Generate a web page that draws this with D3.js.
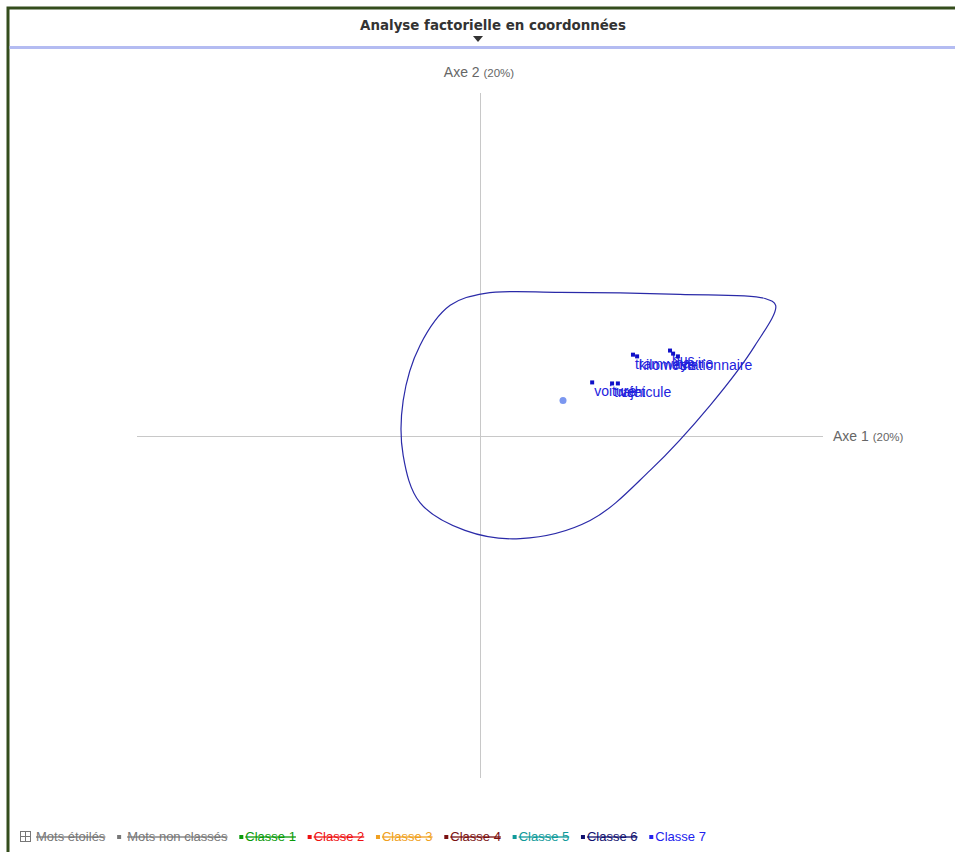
<!DOCTYPE html>
<meta charset="utf-8">
<title>Analyse factorielle en coordonnées</title>
<body>
<script src="https://cdn.jsdelivr.net/npm/d3@7"></script>
<style>
html, body {
    margin: 0;
    background: #fff;
}
svg {
    display: block;
    font-family: "Liberation Sans", Arial, sans-serif;
}
</style>
<script>
var width = 955,
    height = 852;

// mots de la classe 7 (coordonnées factorielles)
var words  = ["tramway", "kilomètre", "bus", "navire", "stationnaire", "voiture", "trajet", "véhicule"],
    wordX  = [0.446, 0.458, 0.554, 0.563, 0.577, 0.327, 0.385, 0.402],
    wordY  = [0.236, 0.231, 0.248, 0.239, 0.231, 0.155, 0.152, 0.152];

// barycentre de la classe
var centerX = [0.242],
    centerY = [0.102];

// contour de la classe
var hullX = [0.015, 0.233, 0.583, 0.831, 0.862, 0.802, 0.671, 0.496, 0.321, 0.117, -0.044, -0.175, -0.224, -0.224, -0.175, -0.087],
    hullY = [0.415, 0.418, 0.412, 0.400, 0.380, 0.263, 0.088, -0.102, -0.248, -0.301, -0.277, -0.196, -0.058, 0.102, 0.263, 0.380];

var axisLabels = ["Axe 1", "Axe 2"],
    axisPct    = ["(20%)", "(20%)"];

var legendLabels = ["Mots étoilés", "Mots non classés", "Classe 1", "Classe 2", "Classe 3", "Classe 4", "Classe 5", "Classe 6", "Classe 7"],
    legendOff    = [true, true, true, true, true, true, true, true, false];

var legendColors = ["#777", "#777", "#0a9a0a", "#ee1111", "#f0a020", "#7a1010", "#109a9a", "#10106e", "#2222ee"];

var svg = d3.select("body").append("svg")
    .attr("width", width)
    .attr("height", height);

// cadre
svg.append("rect")
    .attr("x", 8).attr("y", 8)
    .attr("width", width).attr("height", height)
    .attr("fill", "none")
    .attr("stroke", "#344d1c")
    .attr("stroke-width", 3);

svg.append("rect")
    .attr("x", 9.5).attr("y", 46)
    .attr("width", width).attr("height", 3)
    .attr("fill", "#b4bcf2");

svg.append("text")
    .attr("x", 493).attr("y", 30)
    .attr("text-anchor", "middle")
    .attr("font-family", "'DejaVu Sans', Verdana, sans-serif")
    .attr("font-size", 13.4)
    .attr("font-weight", "bold")
    .attr("fill", "#333")
    .text("Analyse factorielle en coordonnées");

svg.append("path")
    .attr("d", "M473,36L483,36L478,42Z")
    .attr("fill", "#333");

var x = d3.scaleLinear().domain([-1, 1]).range([137, 823]),
    y = d3.scaleLinear().domain([-1, 1]).range([778, 93]);

// axes
var axes = svg.append("g")
    .attr("stroke", "#c8c8c8")
    .attr("stroke-width", 1);

axes.append("line")
    .attr("x1", x(-1)).attr("x2", x(1))
    .attr("y1", Math.round(y(0)) + 0.5).attr("y2", Math.round(y(0)) + 0.5);

axes.append("line")
    .attr("x1", Math.round(x(0)) + 0.5).attr("x2", Math.round(x(0)) + 0.5)
    .attr("y1", y(1)).attr("y2", y(-1));

var ax1 = svg.append("text")
    .attr("x", x(1) + 10).attr("y", y(0) + 5)
    .attr("fill", "#666")
    .attr("font-size", 14);
ax1.append("tspan").text(axisLabels[0] + " ");
ax1.append("tspan").attr("font-size", 11.5).text(axisPct[0]);

var ax2 = svg.append("text")
    .attr("x", x(0) - 1).attr("y", y(1) - 16)
    .attr("text-anchor", "middle")
    .attr("fill", "#666")
    .attr("font-size", 14);
ax2.append("tspan").text(axisLabels[1] + " ");
ax2.append("tspan").attr("font-size", 11.5).text(axisPct[1]);

// contour
var hull = d3.line()
    .x(function(d) { return x(d[0]); })
    .y(function(d) { return y(d[1]); })
    .curve(d3.curveCatmullRomClosed.alpha(0.5));

svg.append("path")
    .datum(d3.zip(hullX, hullY))
    .attr("d", hull)
    .attr("fill", "none")
    .attr("stroke", "#2a2aa8")
    .attr("stroke-width", 1.2);

svg.selectAll("circle.center")
    .data(d3.zip(centerX, centerY))
  .enter().append("circle")
    .attr("class", "center")
    .attr("cx", function(d) { return x(d[0]); })
    .attr("cy", function(d) { return y(d[1]); })
    .attr("r", 3.5)
    .attr("fill", "#7b97f0");

// mots
var pts = svg.selectAll("g.word")
    .data(d3.zip(words, wordX, wordY))
  .enter().append("g")
    .attr("class", "word")
    .attr("transform", function(d) { return "translate(" + [x(d[1]), y(d[2])] + ")"; });

pts.append("rect")
    .attr("x", -2).attr("y", -2)
    .attr("width", 4).attr("height", 4)
    .attr("fill", "#1010c8");

pts.append("text")
    .attr("x", 2).attr("y", 14)
    .attr("font-size", 14)
    .attr("fill", "#2222dd")
    .text(function(d) { return d[0]; });

// légende
var lg = svg.append("g")
    .attr("transform", "translate(20, 841)")
    .attr("font-size", 13);

var cx = 0;
legendLabels.forEach(function(l, i) {
    var item = lg.append("g").attr("transform", "translate(" + cx + ",0)");
    var c = legendColors[i];
    if (i === 0) {
        item.append("rect").attr("x", 0.5).attr("y", -9.5).attr("width", 10).attr("height", 10)
            .attr("fill", "none").attr("stroke", c);
        item.append("path").attr("d", "M5.5,-9V0M1,-4.5H10").attr("stroke", c);
    } else {
        item.append("rect").attr("x", 0).attr("y", -6).attr("width", 4).attr("height", 4).attr("fill", c);
    }
    var tx = i === 0 ? 16 : (i === 1 ? 10 : 6);
    var t = item.append("text")
        .attr("x", tx)
        .attr("fill", c)
        .attr("text-decoration", legendOff[i] ? "line-through" : null)
        .text(l);
    cx += tx + t.node().getComputedTextLength() + 11.75;
});
</script>
